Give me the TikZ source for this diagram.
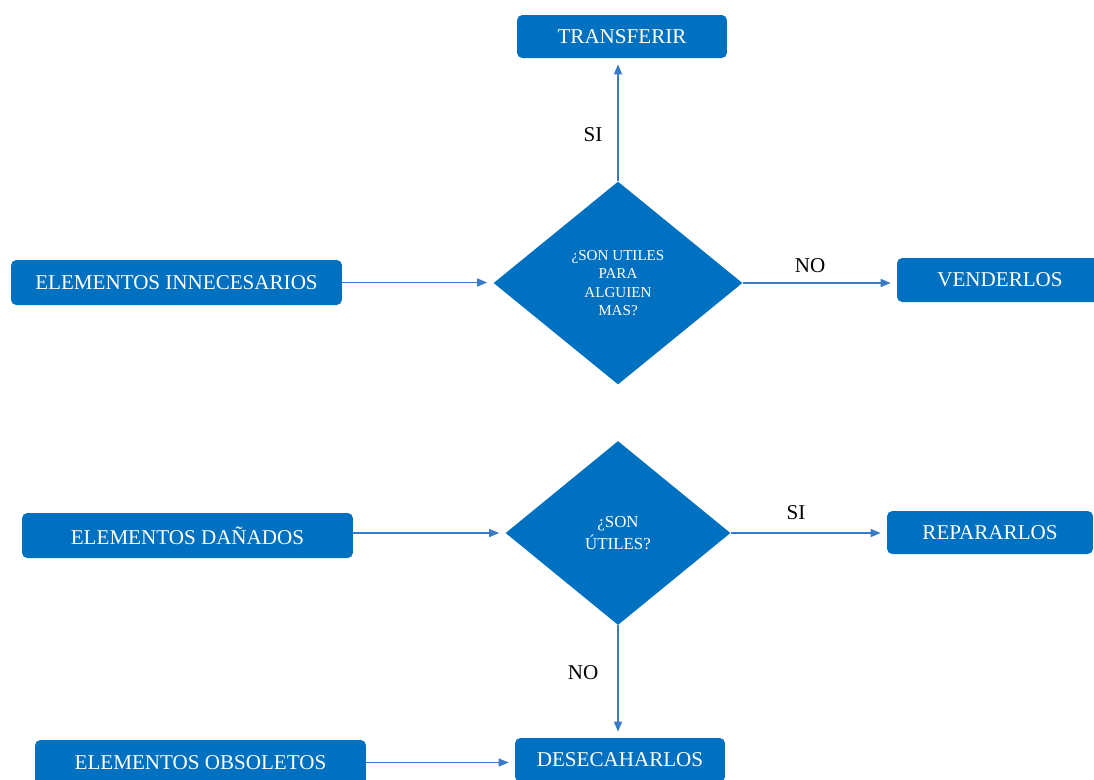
\documentclass[tikz,border=0pt]{standalone}
\definecolor{officeblue}{HTML}{0070C0}
\definecolor{linkblue}{HTML}{3A7BC8}
\usepackage{fontspec}
\setmainfont{Liberation Serif}
\usetikzlibrary{shapes.geometric,arrows.meta,positioning,calc}

\begin{document}
\begin{tikzpicture}[x=0.02cm,y=-0.02cm,
  stepbox/.style={rectangle,rounded corners=3pt,fill=officeblue,text=white,
    font=\fontsize{12}{14}\selectfont,inner sep=0pt},
  askbox/.style={diamond,fill=officeblue,text=white,align=center,inner sep=0pt},
  flow/.style={-{Triangle[length=0.2cm,width=0.16cm]},linkblue,line width=0.8pt,shorten >=0.12cm},
  answer/.style={font=\fontsize{12}{14}\selectfont}]
  \useasboundingbox (0,0) rectangle (1094,779);
  % boxes
  \node[stepbox,minimum width=6.62cm,minimum height=0.9cm] (innec) at (176.5,282.5) {ELEMENTOS INNECESARIOS};
  \node[stepbox,minimum width=6.62cm,minimum height=0.9cm] (danados) at (187.5,535.5) {ELEMENTOS DAÑADOS};
  \node[stepbox,minimum width=6.62cm,minimum height=0.9cm] (obsol) at (200.5,762.5) {ELEMENTOS OBSOLETOS};
  \node[stepbox,minimum width=4.2cm,minimum height=0.86cm] (transferir) at (622,36.5) {TRANSFERIR};
  \node[stepbox,minimum width=4.12cm,minimum height=0.88cm] (vender) at (1000,280) {VENDERLOS};
  \node[stepbox,minimum width=4.12cm,minimum height=0.86cm] (reparar) at (990,532.5) {REPARARLOS};
  \node[stepbox,minimum width=4.2cm,minimum height=0.88cm] (desechar) at (620,760) {DESECAHARLOS};
  % questions
  \node[askbox,minimum width=4.98cm,minimum height=4.06cm,font=\fontsize{8.6}{10.5}\selectfont] (utilotro) at (618,283)
    {¿SON UTILES\\PARA\\ALGUIEN\\MAS?};
  \node[askbox,minimum width=4.5cm,minimum height=3.68cm,font=\fontsize{9.6}{12}\selectfont] (utiles) at (618,533)
    {¿SON\\ÚTILES?};
  % connectors
  \draw[flow] (innec.east) -- (innec.east -| utilotro.west);
  \draw[flow] (utilotro.north) -- (utilotro.north |- transferir.south);
  \draw[flow] (utilotro.east) -- (utilotro.east -| vender.west);
  \draw[flow] (danados.east |- utiles.west) -- (utiles.west);
  \draw[flow] (utiles.east) -- (utiles.east -| reparar.west);
  \draw[flow] (utiles.south) -- (utiles.south |- desechar.north);
  \draw[flow] (obsol.east) -- (obsol.east -| desechar.west);
  % answers
  \node[answer] (si1) at (593,135) {SI};
  \node[answer] (no1) at (810,266) {NO};
  \node[answer] (si2) at (796,513) {SI};
  \node[answer] (no2) at (583,673) {NO};
\end{tikzpicture}
\end{document}
